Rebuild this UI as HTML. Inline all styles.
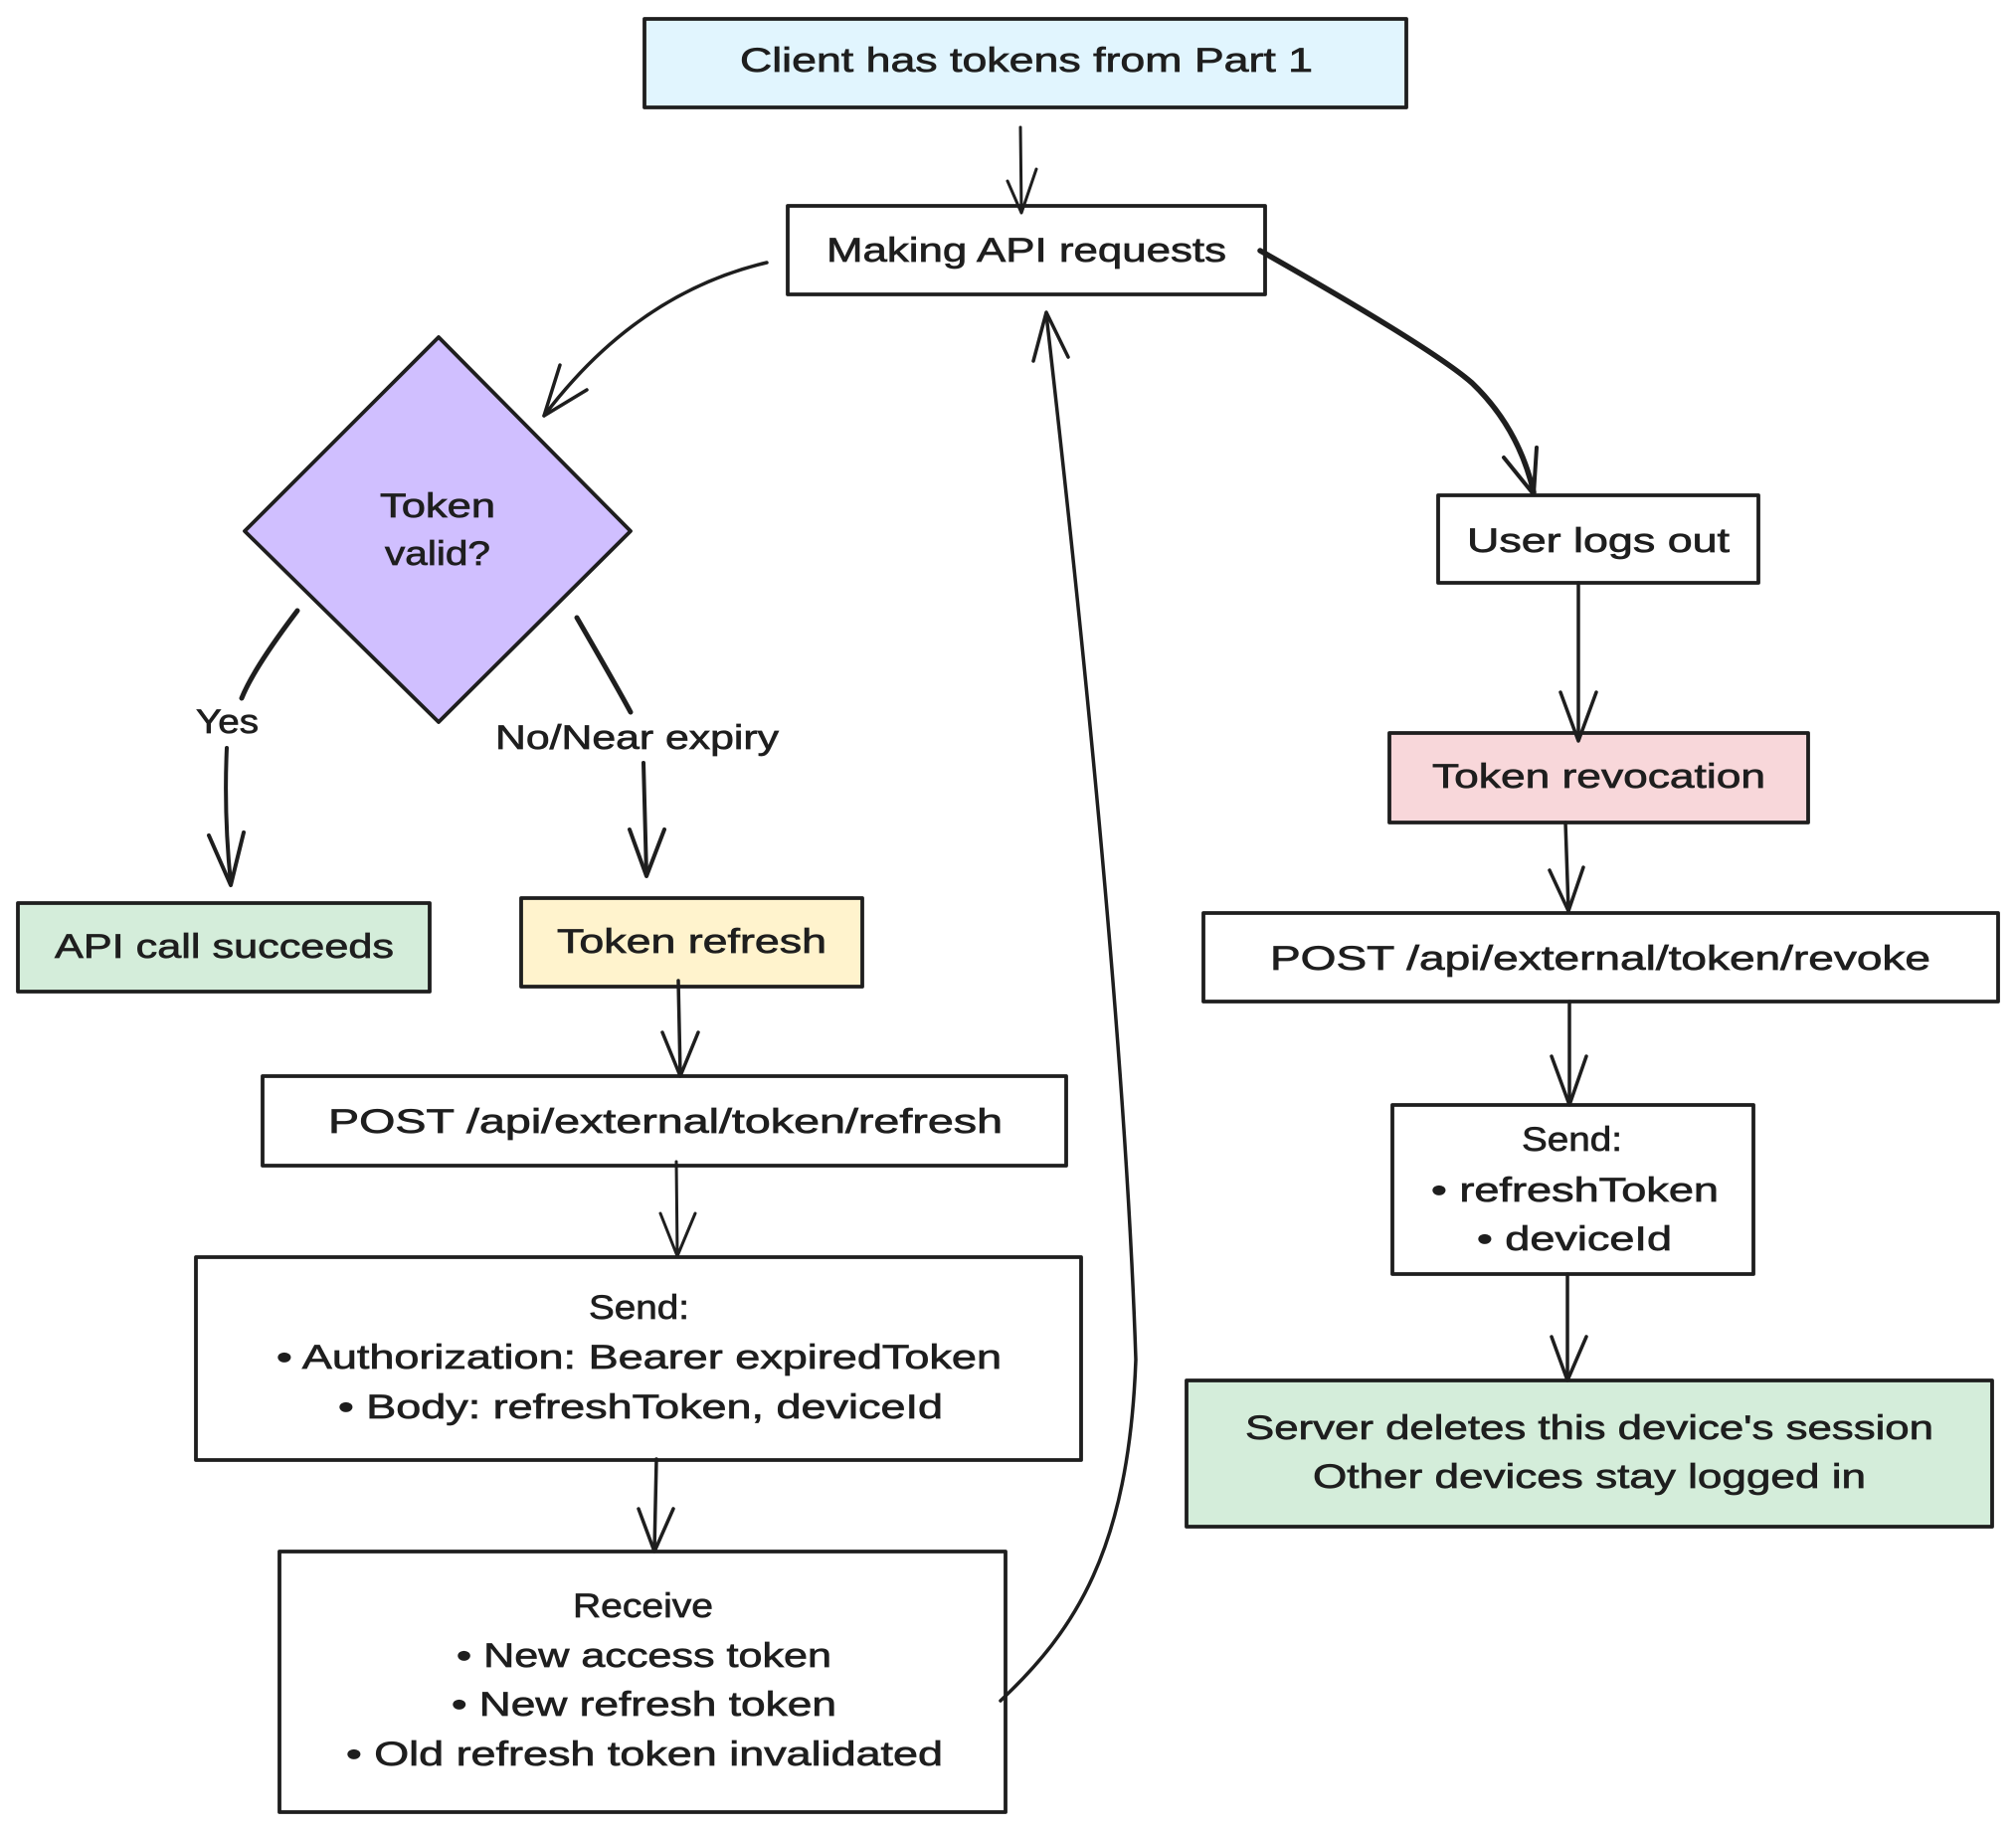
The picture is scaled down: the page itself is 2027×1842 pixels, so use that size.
<!DOCTYPE html>
<html>
<head>
<meta charset="utf-8">
<style>
  html, body { margin:0; padding:0; background:#ffffff; }
  body { width:2027px; height:1842px; overflow:hidden; }
  svg { display:block; }
  text { font-family: "Liberation Sans", "DejaVu Sans", sans-serif; font-size:34px; fill:#1e1e1e; stroke:#1e1e1e; stroke-width:0.7px; }
</style>
</head>
<body>
<svg width="2027" height="1842" viewBox="0 0 2027 1842" xmlns="http://www.w3.org/2000/svg">
  <rect x="0" y="0" width="2027" height="1842" fill="#ffffff"/>

  <g stroke="#1e1e1e" stroke-width="3.8" stroke-linejoin="round">
    <!-- boxes -->
    <rect x="648" y="19" width="766" height="89" fill="#e1f5fe"/>
    <rect x="792" y="207" width="480" height="89" fill="#ffffff"/>
    <polygon points="441,339 634,534 441,726 246,534" fill="#d0bfff"/>
    <rect x="18" y="908" width="414" height="89" fill="#d4edda"/>
    <rect x="524" y="903" width="343" height="89" fill="#fff3cd"/>
    <rect x="264" y="1082" width="808" height="90" fill="#ffffff"/>
    <rect x="197" y="1264" width="890" height="204" fill="#ffffff"/>
    <rect x="281" y="1560" width="730" height="262" fill="#ffffff"/>
    <rect x="1446" y="498" width="322" height="88" fill="#ffffff"/>
    <rect x="1397" y="737" width="421" height="90" fill="#f8d7da"/>
    <rect x="1210" y="918" width="799" height="89" fill="#ffffff"/>
    <rect x="1400" y="1111" width="363" height="170" fill="#ffffff"/>
    <rect x="1193" y="1388" width="810" height="147" fill="#d4edda"/>
  </g>

  <g fill="none" stroke="#1e1e1e" stroke-linecap="round" stroke-linejoin="round">
    <!-- top -> making -->
    <path d="M1026 128 L1027 213" stroke-width="3"/>
    <path d="M1013 182 L1027 214 L1042 170" stroke-width="3"/>
    <!-- making -> diamond -->
    <path d="M771 264 Q640 295 547 418" stroke-width="3.5"/>
    <path d="M563 367 L547 418 L590 392" stroke-width="3.5"/>
    <!-- yes -->
    <path d="M299 614 Q255 672 243 702" stroke-width="5"/>
    <path d="M228 752 Q225 820 232 888" stroke-width="4"/>
    <path d="M210 840 L232 890 L245 837" stroke-width="4"/>
    <!-- no -->
    <path d="M580 621 Q620 690 634 716" stroke-width="5"/>
    <path d="M647 767 L650 880" stroke-width="4"/>
    <path d="M633 834 L650 881 L668 834" stroke-width="4"/>
    <!-- making -> user logs out -->
    <path d="M1267 252 Q1440 350 1480 385 Q1527 430 1542 495" stroke-width="5.5"/>
    <path d="M1512 460 L1542 497 L1545 450" stroke-width="4"/>
    <!-- user logs out -> revocation -->
    <path d="M1587 586 L1587 744" stroke-width="3.5"/>
    <path d="M1569 696 L1587 745 L1605 696" stroke-width="3.5"/>
    <!-- revocation -> post revoke -->
    <path d="M1574 827 L1577 915" stroke-width="3.5"/>
    <path d="M1558 875 L1577 916 L1592 872" stroke-width="3.5"/>
    <!-- post revoke -> send right -->
    <path d="M1578 1007 L1578 1110" stroke-width="3.5"/>
    <path d="M1560 1062 L1578 1111 L1595 1062" stroke-width="3.5"/>
    <!-- send right -> server -->
    <path d="M1576 1281 L1576 1387" stroke-width="3.5"/>
    <path d="M1560 1344 L1576 1388 L1595 1344" stroke-width="3.5"/>
    <!-- token refresh -> post refresh -->
    <path d="M682 986 L684 1081" stroke-width="3.5"/>
    <path d="M666 1038 L684 1082 L702 1038" stroke-width="3.5"/>
    <!-- post refresh -> send -->
    <path d="M680 1168 L681 1262" stroke-width="3"/>
    <path d="M664 1220 L681 1263 L699 1220" stroke-width="3"/>
    <!-- send -> receive -->
    <path d="M660 1467 L658 1559" stroke-width="3.5"/>
    <path d="M642 1517 L658 1560 L677 1517" stroke-width="3.5"/>
    <!-- loop receive -> making -->
    <path d="M1006 1710 C1080 1640 1135 1560 1142 1367 Q1130 1000 1052 316" stroke-width="3.5"/>
    <path d="M1039 363 L1052 314 L1074 359" stroke-width="3.5"/>
  </g>

  <!-- labels -->
  <text x="744" y="72" textLength="576" lengthAdjust="spacingAndGlyphs">Client has tokens from Part 1</text>
  <text x="831" y="263" textLength="402" lengthAdjust="spacingAndGlyphs">Making API requests</text>
  <text x="382" y="520" textLength="116" lengthAdjust="spacingAndGlyphs">Token</text>
  <text x="387" y="568" textLength="106" lengthAdjust="spacingAndGlyphs">valid?</text>
  <text x="197" y="737" textLength="63" lengthAdjust="spacingAndGlyphs">Yes</text>
  <text x="498" y="753" textLength="285" lengthAdjust="spacingAndGlyphs">No/Near expiry</text>
  <text x="55" y="963" textLength="341" lengthAdjust="spacingAndGlyphs">API call succeeds</text>
  <text x="560" y="958" textLength="271" lengthAdjust="spacingAndGlyphs">Token refresh</text>
  <text x="330" y="1139" textLength="678" lengthAdjust="spacingAndGlyphs">POST /api/external/token/refresh</text>
  <text x="592" y="1326" textLength="101" lengthAdjust="spacingAndGlyphs">Send:</text>
  <text x="278" y="1376" textLength="729" lengthAdjust="spacingAndGlyphs">• Authorization: Bearer expiredToken</text>
  <text x="340" y="1426" textLength="608" lengthAdjust="spacingAndGlyphs">• Body: refreshToken, deviceId</text>
  <text x="576" y="1626" textLength="141" lengthAdjust="spacingAndGlyphs">Receive</text>
  <text x="459" y="1676" textLength="377" lengthAdjust="spacingAndGlyphs">• New access token</text>
  <text x="454" y="1725" textLength="387" lengthAdjust="spacingAndGlyphs">• New refresh token</text>
  <text x="348" y="1775" textLength="600" lengthAdjust="spacingAndGlyphs">• Old refresh token invalidated</text>
  <text x="1475" y="555" textLength="264" lengthAdjust="spacingAndGlyphs">User logs out</text>
  <text x="1440" y="792" textLength="335" lengthAdjust="spacingAndGlyphs">Token revocation</text>
  <text x="1277" y="975" textLength="664" lengthAdjust="spacingAndGlyphs">POST /api/external/token/revoke</text>
  <text x="1530" y="1157" textLength="101" lengthAdjust="spacingAndGlyphs">Send:</text>
  <text x="1439" y="1208" textLength="289" lengthAdjust="spacingAndGlyphs">• refreshToken</text>
  <text x="1485" y="1257" textLength="196" lengthAdjust="spacingAndGlyphs">• deviceId</text>
  <text x="1252" y="1447" textLength="692" lengthAdjust="spacingAndGlyphs">Server deletes this device's session</text>
  <text x="1320" y="1496" textLength="556" lengthAdjust="spacingAndGlyphs">Other devices stay logged in</text>
</svg>
</body>
</html>
